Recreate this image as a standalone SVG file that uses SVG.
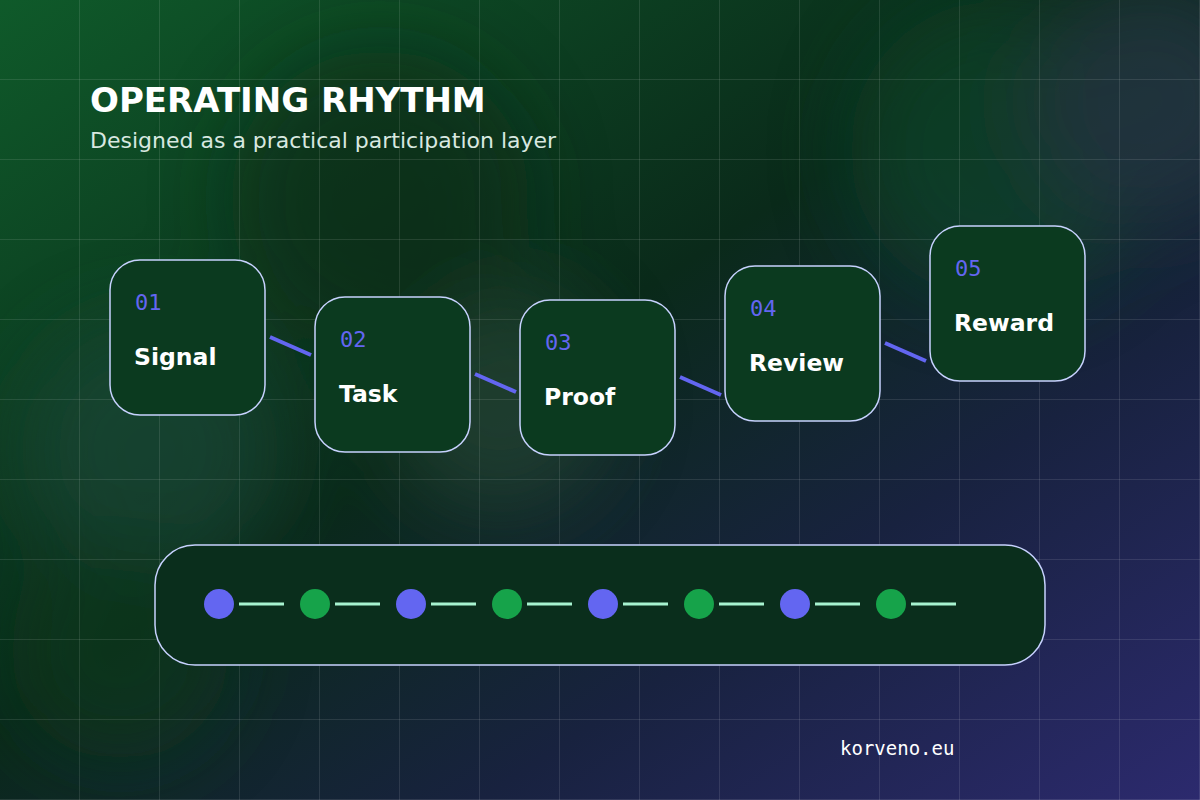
<svg xmlns="http://www.w3.org/2000/svg" width="1200" height="800" viewBox="0 0 1200 800">
<defs>
<linearGradient id="bg" x1="0" y1="0" x2="1" y2="1">
<stop offset="0" stop-color="#0f5a2a"/><stop offset="0.45" stop-color="#0a2a1a"/><stop offset="0.7" stop-color="#18223f"/><stop offset="1" stop-color="#2c2a6e"/>
</linearGradient>
<filter id="blur" x="-50%" y="-50%" width="200%" height="200%"><feGaussianBlur stdDeviation="40"/></filter>
<pattern id="grid" width="80" height="80" patternUnits="userSpaceOnUse"><path d="M80 0V80H0" fill="none" stroke="#ffffff" stroke-opacity="0.2" stroke-width="1"/></pattern>
<style>
.node{fill:#0b3a1f;stroke:#c7d2fe;stroke-width:1.5}
.num{font-family:"DejaVu Sans Mono",monospace;font-size:22px;fill:#6366f1}
.lbl{font-family:"DejaVu Sans",sans-serif;font-weight:bold;font-size:23.5px;fill:#ffffff}
.con{stroke:#6366f1;stroke-width:4;stroke-linecap:butt}
.seg{stroke:#a7f3d0;stroke-width:3}
.b{fill:#6366f1}.g{fill:#16a34a}
</style>
</defs>
<rect width="1200" height="800" fill="url(#bg)"/>
<g filter="url(#blur)" opacity="0.6">
<circle cx="1000" cy="150" r="150" fill="#0f4a2a"/>
<circle cx="1150" cy="100" r="120" fill="#2a3a4a"/>
<circle cx="500" cy="400" r="110" fill="#2a4a3a"/>
<circle cx="150" cy="450" r="130" fill="#1e4a3a"/>
<circle cx="120" cy="650" r="110" fill="#0f3a1f"/>
<circle cx="380" cy="200" r="150" fill="#082a15"/>
</g>
<rect width="1200" height="800" fill="url(#grid)"/>
<text x="90" y="112" font-family="DejaVu Sans,sans-serif" font-weight="bold" font-size="34" fill="#ffffff">OPERATING RHYTHM</text>
<text x="90" y="148" font-family="DejaVu Sans,sans-serif" font-size="22" fill="#d8e8e0">Designed as a practical participation layer</text>
<g id="connectors">
<line class="con" x1="270" y1="337" x2="311" y2="355"/>
<line class="con" x1="475" y1="374" x2="516" y2="392"/>
<line class="con" x1="680" y1="377" x2="721" y2="395"/>
<line class="con" x1="885" y1="343" x2="926" y2="361"/>
</g>
<g id="n1"><rect class="node" x="110" y="260" width="155" height="155" rx="30"/><text class="num" x="135" y="310">01</text><text class="lbl" x="134" y="365">Signal</text></g>
<g id="n2"><rect class="node" x="315" y="297" width="155" height="155" rx="30"/><text class="num" x="340" y="347">02</text><text class="lbl" x="339" y="402">Task</text></g>
<g id="n3"><rect class="node" x="520" y="300" width="155" height="155" rx="30"/><text class="num" x="545" y="350">03</text><text class="lbl" x="544" y="405">Proof</text></g>
<g id="n4"><rect class="node" x="725" y="266" width="155" height="155" rx="30"/><text class="num" x="750" y="316">04</text><text class="lbl" x="749" y="371">Review</text></g>
<g id="n5"><rect class="node" x="930" y="226" width="155" height="155" rx="30"/><text class="num" x="955" y="276">05</text><text class="lbl" x="954" y="331">Reward</text></g>
<g id="bar">
<rect x="155" y="545" width="890" height="120" rx="40" fill="#0a2e1c" stroke="#c7d2fe" stroke-width="1.5"/>
<circle class="b" cx="219" cy="604" r="15"/><line class="seg" x1="239" y1="604" x2="284" y2="604"/>
<circle class="g" cx="315" cy="604" r="15"/><line class="seg" x1="335" y1="604" x2="380" y2="604"/>
<circle class="b" cx="411" cy="604" r="15"/><line class="seg" x1="431" y1="604" x2="476" y2="604"/>
<circle class="g" cx="507" cy="604" r="15"/><line class="seg" x1="527" y1="604" x2="572" y2="604"/>
<circle class="b" cx="603" cy="604" r="15"/><line class="seg" x1="623" y1="604" x2="668" y2="604"/>
<circle class="g" cx="699" cy="604" r="15"/><line class="seg" x1="719" y1="604" x2="764" y2="604"/>
<circle class="b" cx="795" cy="604" r="15"/><line class="seg" x1="815" y1="604" x2="860" y2="604"/>
<circle class="g" cx="891" cy="604" r="15"/><line class="seg" x1="911" y1="604" x2="956" y2="604"/>
</g>
<text x="840" y="755" font-family="DejaVu Sans Mono,monospace" font-size="19" fill="#ffffff">korveno.eu</text>
</svg>
